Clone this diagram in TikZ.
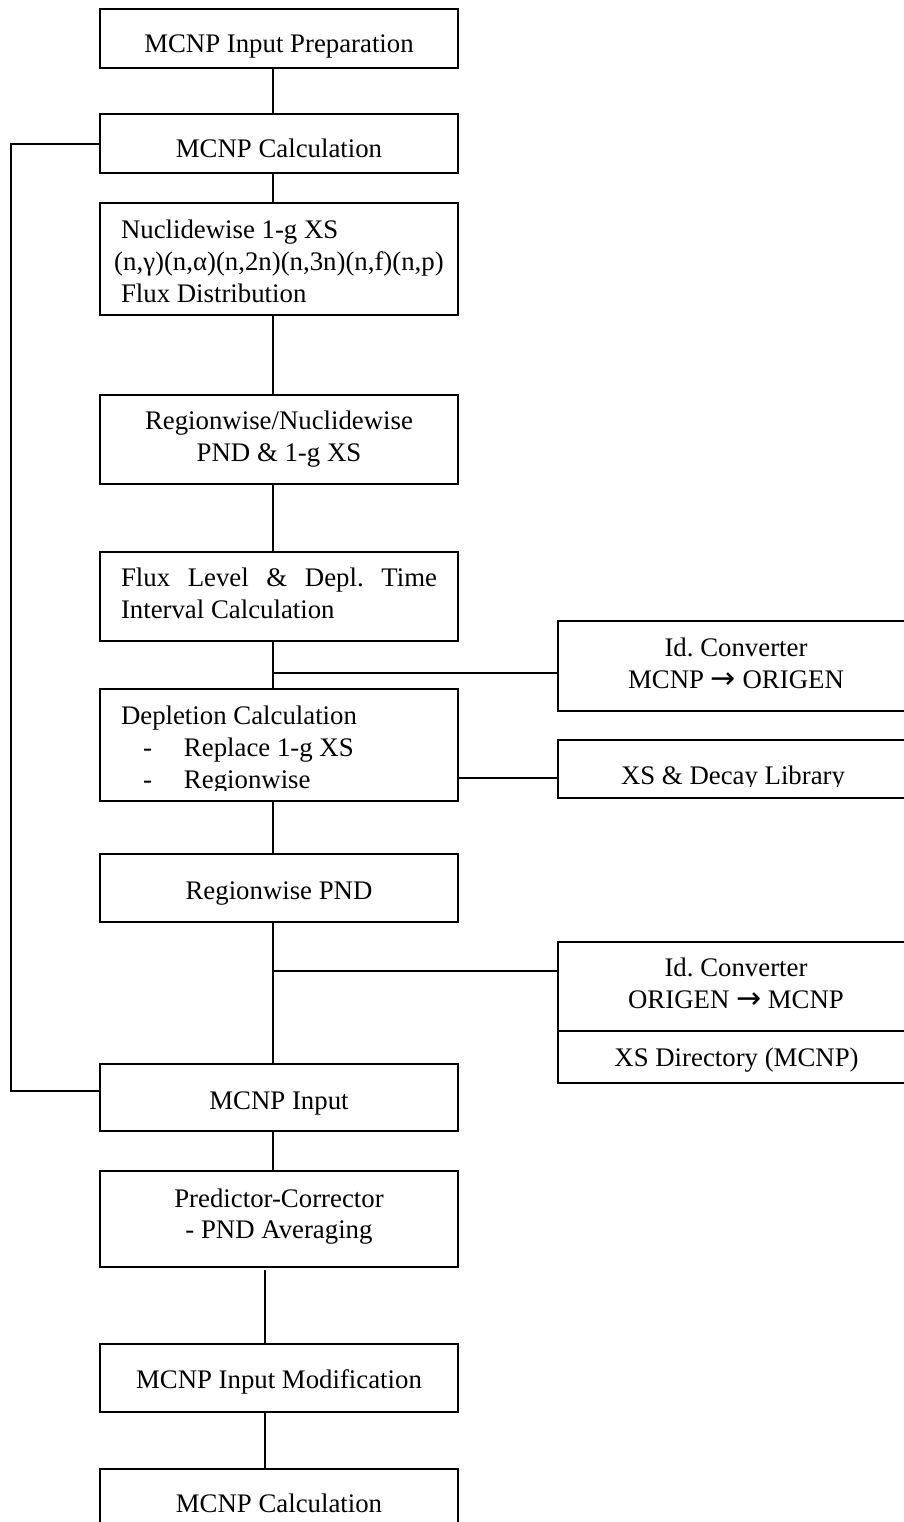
\documentclass[tikz,border=0pt]{standalone}
\usepackage{fontspec}
\setmainfont{Liberation Serif}
\newfontfamily\arrowfont{DejaVu Sans}
\usetikzlibrary{calc}
\frenchspacing
\newcommand\rarr{\raisebox{0pt}{\arrowfont\fontsize{30}{30}\selectfont →}}
\begin{document}
\begin{tikzpicture}[x=1pt,y=-1pt,
  font=\fontsize{26.8}{32}\selectfont,
  box/.style={draw, line width=1.4pt, rectangle, inner sep=0pt, outer sep=0pt},
  mainbox/.style={box, minimum width=358pt},
  sidebox/.style={box, minimum width=356pt},
  conn/.style={line width=1.1pt},
  txt/.style={inner sep=0pt, outer sep=0pt}]
\useasboundingbox (0,0) rectangle (904,1522);
\clip (0,0) rectangle (904,1522);
\fill[white] (0,0) rectangle (904,1522);

% main column boxes
\node[mainbox, minimum height=59pt] (b1) at (279,38.5) {};
\node[mainbox, minimum height=59pt] (b2) at (279,143.5) {};
\node[mainbox, minimum height=112pt] (b3) at (279,259) {};
\node[mainbox, minimum height=89pt] (b4) at (279,439.5) {};
\node[mainbox, minimum height=89pt] (b5) at (279,596.5) {};
\node[mainbox, minimum height=112pt] (b6) at (279,745) {};
\node[mainbox, minimum height=68pt] (b7) at (279,888) {};
\node[mainbox, minimum height=67pt] (b8) at (279,1097.5) {};
\node[mainbox, minimum height=96pt] (b9) at (279,1219) {};
\node[mainbox, minimum height=68pt] (b10) at (279,1378) {};
\node[mainbox, minimum height=68pt] (b11) at (279,1503) {};

% side boxes
\node[sidebox, minimum height=90pt] (r1) at (736,666) {};
\node[sidebox, minimum height=58pt] (r2) at (736,769) {};
\node[sidebox, minimum height=89pt] (r3) at (736,986.5) {};
\node[sidebox, minimum height=52pt] (r4) at (736,1057) {};

% texts
\node[txt, anchor=base] (t1) at (279,53) {MCNP Input Preparation};
\node[txt, anchor=base] (t2) at (279,158) {MCNP Calculation};
\node[txt, anchor=north west, align=left] (t3) at (121,219.8)
  {Nuclidewise 1-g XS\\\makebox[316pt][c]{(n,γ)(n,α)(n,2n)(n,3n)(n,f)(n,p)}\\Flux Distribution};
\node[txt, anchor=north, align=center] (t4) at (279,410.8)
  {Regionwise/Nuclidewise\\PND \& 1-g XS};
\node[txt, anchor=north west, align=left] (t5) at (121,567.8)
  {\makebox[316pt][s]{Flux Level \& Depl. Time}\\Interval Calculation};
\begin{scope}
  \clip (100,680) rectangle (460,790);
  \node[txt, anchor=north west, align=left] (t6) at (121,705.8)
    {Depletion Calculation\\\makebox[63pt][l]{\hspace*{22pt}-}Replace 1-g XS\\\makebox[63pt][l]{\hspace*{22pt}-}Regionwise};
\end{scope}
\node[txt, anchor=base] (t7) at (279,899) {Regionwise PND};
\node[txt, anchor=base] (t8) at (279,1109) {MCNP Input};
\node[txt, anchor=north, align=center, font=\fontsize{26.8}{31.5}\selectfont] (t9) at (279,1188.8)
  {Predictor-Corrector\\- PND Averaging};
\node[txt, anchor=base] (t10) at (279,1388) {MCNP Input Modification};
\node[txt, anchor=base] (t11) at (279,1512) {MCNP Calculation};

\node[txt, anchor=north, align=center] (s1) at (736,637.8)
  {Id. Converter\\MCNP \rarr{} ORIGEN};
\begin{scope}
  \clip (558,740) rectangle (914,786);
  \node[txt, anchor=base] (s2) at (733,784.5) {XS \& Decay Library};
\end{scope}
\node[txt, anchor=north, align=center] (s3) at (736,957.8)
  {Id. Converter\\ORIGEN \rarr{} MCNP};
\node[txt, anchor=base] (s4) at (736.5,1066.7) {XS Directory (MCNP)};

% helper coordinates
\coordinate (cx) at (273,0);
\coordinate (cxb) at (265,0);
\coordinate (j1) at (273,673);
\coordinate (j2) at (0,778);
\coordinate (j3) at (273,971);
\coordinate (lpb) at (11,1091);
\coordinate (lpt) at (11,144);

% connectors
\draw[conn] (b1.south -| cx) -- (b2.north -| cx);
\draw[conn] (b2.south -| cx) -- (b3.north -| cx);
\draw[conn] (b3.south -| cx) -- (b4.north -| cx);
\draw[conn] (b4.south -| cx) -- (b5.north -| cx);
\draw[conn] (b5.south -| cx) -- (b6.north -| cx);
\draw[conn] (b6.south -| cx) -- (b7.north -| cx);
\draw[conn] (b7.south -| cx) -- (b8.north -| cx);
\draw[conn] (b8.south -| cx) -- (b9.north -| cx);
\draw[conn, shorten <=3pt] (b9.south -| cxb) -- (b10.north -| cxb);
\draw[conn] (b10.south -| cxb) -- (b11.north -| cxb);
\draw[conn] (j1) -- (j1 -| r1.west);
\draw[conn] (b6.east |- j2) -- (r2.west |- j2);
\draw[conn] (j3) -- (j3 -| r3.west);
\draw[conn] (b8.west |- lpb) -- (lpb) -- (lpt) -- (b2.west |- lpt);
\end{tikzpicture}
\end{document}
